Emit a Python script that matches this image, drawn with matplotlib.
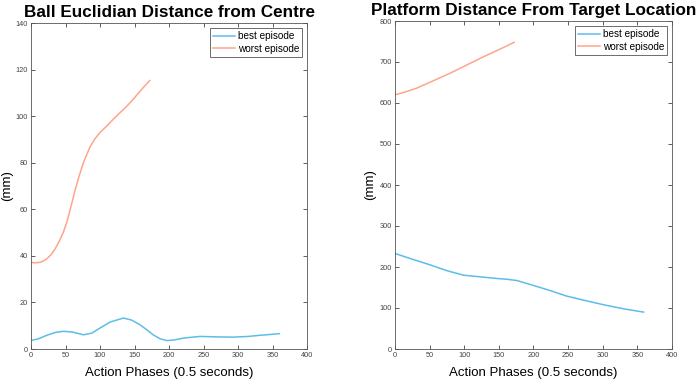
import numpy as np
import matplotlib.pyplot as plt

plt.rcParams["font.family"] = ["Liberation Sans", "DejaVu Sans"]

BLUE = "#5cbde8"
ORANGE = "#ffa48b"

# left panel: ball euclidian distance from centre
ball_best_x = [0, 10, 23, 35, 47, 60, 76, 88, 100, 115, 134, 146, 158, 168, 177, 187, 197,
               208, 221, 245, 270, 293, 315, 332, 345, 360]
ball_best_y = [3.7, 4.3, 5.9, 7.1, 7.6, 7.3, 6.1, 6.8, 9.0, 11.6, 13.3, 12.4, 10.4, 8.2, 6.1,
               4.4, 3.6, 3.9, 4.7, 5.4, 5.2, 5.1, 5.4, 5.9, 6.2, 6.6]
ball_worst_x = [0, 6, 13, 18, 23, 29, 35, 41, 47, 52, 56, 60, 64, 70, 76, 85, 92, 100, 110,
                119, 128, 138, 148, 158, 165, 172]
ball_worst_y = [37.2, 37.0, 37.2, 37.8, 38.8, 40.5, 43.0, 46.3, 50.2, 54.6, 59.0, 63.6, 68.3,
                74.5, 80.0, 86.5, 90.0, 93.0, 95.8, 98.6, 101.2, 104.0, 107.2, 110.7, 113.0, 115.3]

# right panel: platform distance from target location
plat_best_x = [0, 25, 51, 75, 99, 123, 147, 162, 176, 188, 200, 225, 248, 275, 301, 330, 359]
plat_best_y = [233, 219, 205, 191, 180, 176, 172, 170, 167, 161, 155, 142, 129, 118, 108, 98, 90]
plat_worst_x = [0, 15, 31, 55, 80, 104, 128, 150, 172]
plat_worst_y = [620, 627, 636, 654, 673, 693, 713, 730, 748]

panels = [
    ("Ball Euclidian Distance from Centre", ball_best_x, ball_best_y,
     ball_worst_x, ball_worst_y, 140, np.arange(0, 141, 20),
     [31 / 699, 1 - 349 / 380, 276 / 699, 326 / 380], -18 / 276),
    ("Platform Distance From Target Location", plat_best_x, plat_best_y,
     plat_worst_x, plat_worst_y, 800, np.arange(0, 801, 100),
     [395 / 699, 1 - 349 / 380, 277 / 699, 328 / 380], -19 / 277),
]

fig = plt.figure(figsize=(6.99, 3.8), dpi=100)
for title, bx, by, wx, wy, ymax, yticks, pos, ylab_x in panels:
    ax = fig.add_axes(pos)
    ax.plot(bx, by, color=BLUE, lw=1.1, label="best episode")
    ax.plot(wx, wy, color=ORANGE, lw=1.1, label="worst episode")
    ax.set_xlim(0, 400)
    ax.set_ylim(0, ymax)
    ax.set_xticks(np.arange(0, 401, 50))
    ax.set_yticks(yticks)
    ax.tick_params(direction="in", length=3, width=0.6, labelsize=5.3, colors="#444444",
                   top=True, right=True, pad=2)
    for s in ax.spines.values():
        s.set_color("#555555")
        s.set_linewidth(0.6)
    ax.set_title(title, fontsize=12.3, fontweight="bold", pad=4)
    ax.set_xlabel("Action Phases (0.5 seconds)", fontsize=9.5, labelpad=6)
    ax.set_ylabel("(mm)", fontsize=9.5)
    ax.yaxis.set_label_coords(ylab_x, 0.5)
    leg = ax.legend(loc="upper right", fontsize=7.2, fancybox=False, framealpha=1,
                    borderpad=0.3, labelspacing=0.25, handlelength=2.2, handletextpad=0.3,
                    borderaxespad=0.5)
    leg.get_frame().set_edgecolor("#555555")
    leg.get_frame().set_linewidth(0.6)

fig.savefig("out.png", dpi=100)
